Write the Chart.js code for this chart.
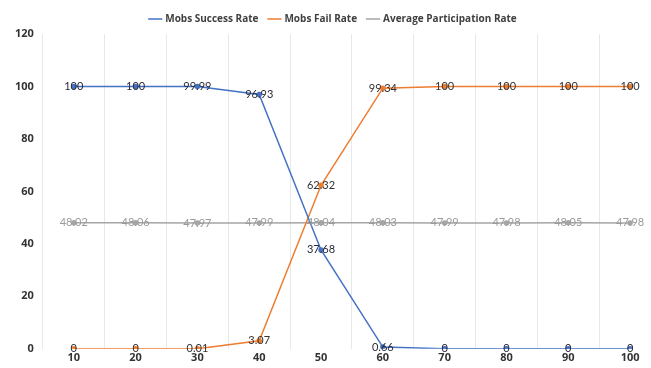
<!DOCTYPE html>
<html>
<head>
<meta charset="utf-8">
<script src="https://cdn.jsdelivr.net/npm/chart.js@4"></script>
<style>
  html, body { margin: 0; padding: 0; background: #fff; overflow: hidden; }
  #wrap { width: 651px; height: 368px; overflow: hidden; position: relative; }
  #box { width: 680px; height: 368px; position: absolute; left: 0; top: 0; }
</style>
</head>
<body>
<div id="wrap"><div id="box"><canvas id="c"></canvas></div></div>
<script>
const categories = ['10', '20', '30', '40', '50', '60', '70', '80', '90', '100'];
const successRate = [100, 100, 99.99, 96.93, 37.68, 0.66, 0, 0, 0, 0];
const failRate = [0, 0, 0.01, 3.07, 62.32, 99.34, 100, 100, 100, 100];
const avgParticipation = [48.02, 48.06, 47.97, 47.99, 48.04, 48.03, 47.99, 47.98, 48.05, 47.98];
const yTicks = [0, 20, 40, 60, 80, 100, 120];

const FONT = '"Open Sans", "Liberation Sans", sans-serif';
const LABEL_FONT = 'Lato, "Open Sans", sans-serif';

// Writes each point's value centred on the point itself.
const pointValueLabels = {
  id: 'pointValueLabels',
  afterDatasetsDraw(chart) {
    const ctx = chart.ctx;
    ctx.save();
    ctx.font = '11px ' + LABEL_FONT;
    ctx.textAlign = 'center';
    ctx.textBaseline = 'middle';
    chart.data.datasets.forEach((ds, i) => {
      const meta = chart.getDatasetMeta(i);
      ctx.fillStyle = ds.labelColor;
      meta.data.forEach((pt, j) => {
        ctx.fillText(String(ds.data[j]), pt.x, pt.y);
      });
    });
    ctx.restore();
  }
};

new Chart(document.getElementById('c'), {
  type: 'line',
  data: {
    labels: categories,
    datasets: [
      {
        label: 'Mobs Success Rate',
        data: successRate,
        borderColor: '#4472C4',
        backgroundColor: '#4472C4',
        labelColor: '#2a2a3a',
        borderWidth: 1.5,
        pointRadius: 2,
        tension: 0
      },
      {
        label: 'Mobs Fail Rate',
        data: failRate,
        borderColor: '#ED7D31',
        backgroundColor: '#ED7D31',
        labelColor: '#333333',
        borderWidth: 1.5,
        pointRadius: 2,
        tension: 0
      },
      {
        label: 'Average Participation Rate',
        data: avgParticipation,
        borderColor: '#A5A5A5',
        backgroundColor: '#A5A5A5',
        labelColor: '#9a9a9a',
        borderWidth: 1.5,
        pointRadius: 2,
        tension: 0
      }
    ]
  },
  options: {
    responsive: true,
    maintainAspectRatio: false,
    animation: false,
    layout: { padding: { left: 6, right: 19, top: 3, bottom: 2 } },
    plugins: {
      legend: {
        position: 'top',
        labels: {
          usePointStyle: true,
          pointStyle: 'line',
          boxWidth: 14,
          padding: 11,
          color: '#404040',
          font: { family: FONT, size: 10, weight: 'bold' }
        }
      },
      tooltip: { enabled: false }
    },
    scales: {
      x: {
        type: 'category',
        offset: true,
        grid: { offset: true, color: '#e8e8e8', drawTicks: false },
        border: { display: false },
        ticks: {
          color: '#333333',
          padding: 2,
          font: { family: FONT, size: 11, weight: 'bold' }
        }
      },
      y: {
        min: 0,
        max: 120,
        afterBuildTicks(axis) { axis.ticks = yTicks.map(v => ({ value: v })); },
        grid: { display: false, drawTicks: false, tickLength: 0 },
        border: { display: false },
        ticks: {
          color: '#333333',
          padding: 9,
          font: { family: FONT, size: 11, weight: 'bold' }
        }
      }
    }
  },
  plugins: [pointValueLabels]
});
</script>
</body>
</html>
